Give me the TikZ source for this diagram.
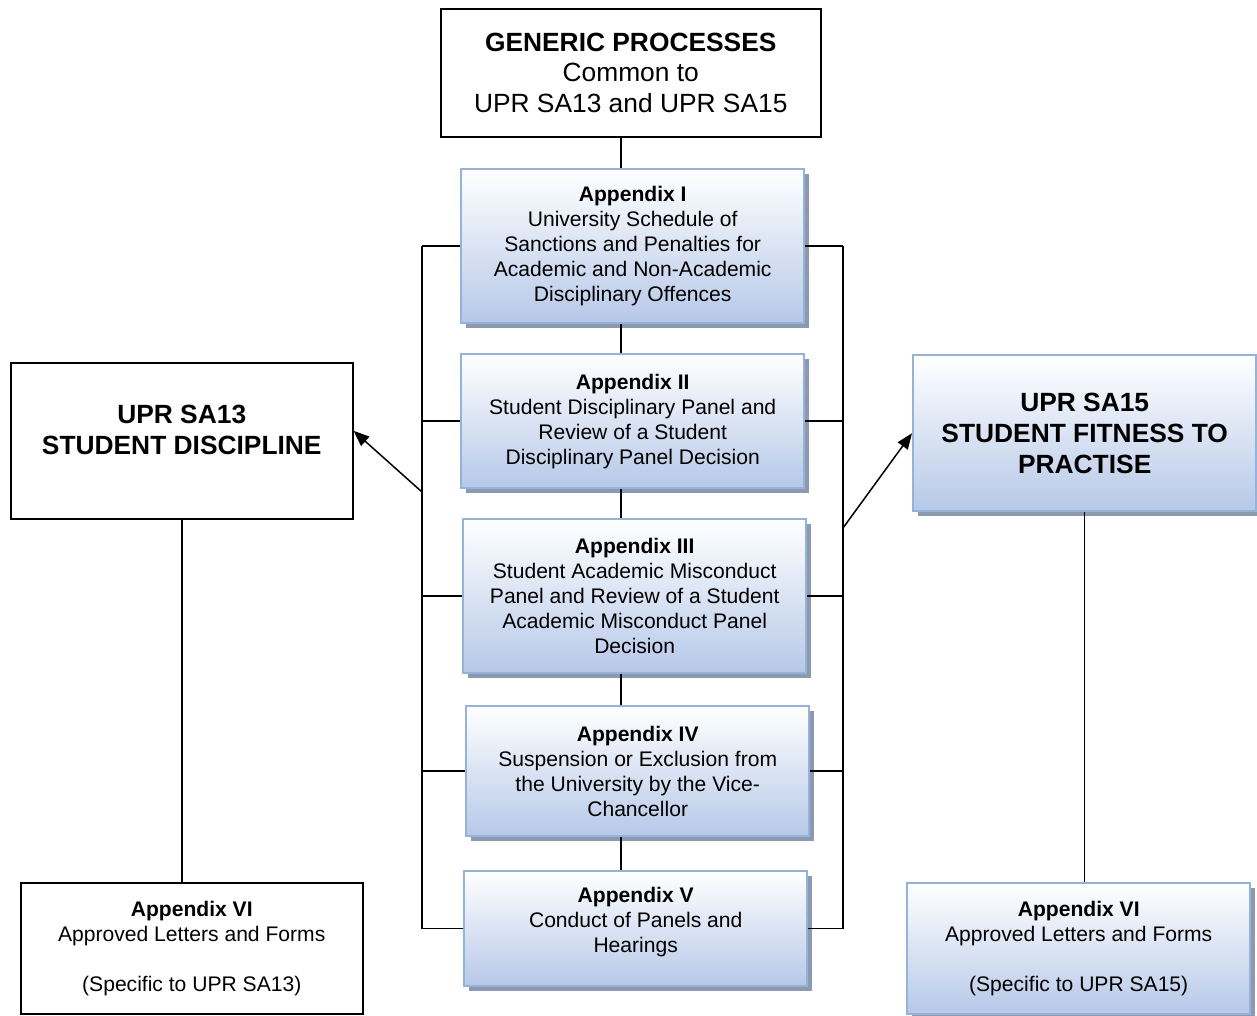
\documentclass[tikz,border=0pt]{standalone}
\usepackage{fontspec}
\setmainfont{Liberation Sans}
\usetikzlibrary{arrows.meta,shadows}
\definecolor{AppBorder}{HTML}{95B3D7}
\definecolor{AppFill}{HTML}{B6C8E8}
\definecolor{AppShadow}{HTML}{8C99B0}
\newcommand\AppFont{\fontsize{12}{14.2}\selectfont}
\newcommand\BigFont{\fontsize{15}{17.5}\selectfont}
\tikzset{%
  AppStyle/.style={draw=AppBorder,line width=1.4pt,top color=white,bottom color=AppFill,
    drop shadow={shadow xshift=2.5pt,shadow yshift=-2.5pt,fill=AppShadow,opacity=1},
    align=center,anchor=north west,inner sep=0pt,font=\AppFont},
  PlainStyle/.style={draw,line width=0.9pt,fill=white,align=center,anchor=north west,
    inner sep=0pt,font=\AppFont},
  LinkStyle/.style={line width=0.85pt}
}

\begin{document}
\begin{tikzpicture}[x=0.02cm,y=-0.02cm]
  \useasboundingbox (0,0) rectangle (1257,1015);
  % central column
  \node[PlainStyle,font=\BigFont,minimum width=7.6cm,minimum height=2.56cm] (gen) at (440,8)
    {\textbf{GENERIC PROCESSES}\\Common to\\UPR SA13 and UPR SA15};
  \node[AppStyle,minimum width=6.86cm,minimum height=3.08cm] (a1) at (460,168)
    {\textbf{Appendix I}\\University Schedule of\\Sanctions and Penalties for\\Academic and Non-Academic\\Disciplinary Offences};
  \node[AppStyle,minimum width=6.86cm,minimum height=2.68cm] (a2) at (460,353)
    {\textbf{Appendix II}\\Student Disciplinary Panel and\\Review of a Student\\Disciplinary Panel Decision};
  \node[AppStyle,minimum width=6.86cm,minimum height=3.08cm] (a3) at (462,518)
    {\textbf{Appendix III}\\Student Academic Misconduct\\Panel and Review of a Student\\Academic Misconduct Panel\\Decision};
  \node[AppStyle,minimum width=6.86cm,minimum height=2.6cm] (a4) at (465,705)
    {\textbf{Appendix IV}\\Suspension or Exclusion from\\the University by the Vice-\\Chancellor};
  \node[AppStyle,minimum width=6.86cm,minimum height=2.3cm] (a5) at (463,870)
    {\textbf{Appendix V}\\Conduct of Panels and\\Hearings\\[-4.2pt]};
  % side columns
  \node[PlainStyle,font=\BigFont\bfseries,minimum width=6.84cm,minimum height=3.12cm] (sa13) at (10,362)
    {UPR SA13\\STUDENT DISCIPLINE\\[-5pt]};
  \node[AppStyle,font=\BigFont\bfseries,minimum width=6.86cm,minimum height=3.12cm] (sa15) at (912,354)
    {UPR SA15\\STUDENT FITNESS TO\\PRACTISE};
  \node[PlainStyle,minimum width=6.84cm,minimum height=2.62cm] (l6) at (20,882)
    {\textbf{Appendix VI}\\Approved Letters and Forms\\[14.2pt](Specific to UPR SA13)};
  \node[AppStyle,minimum width=6.86cm,minimum height=2.62cm] (r6) at (906,882)
    {\textbf{Appendix VI}\\Approved Letters and Forms\\[14.2pt](Specific to UPR SA15)};

  \coordinate (spine) at (621,0);
  \coordinate (lbus) at (422,0);
  \coordinate (rbus) at (843,0);
  \coordinate (lfork) at (422,492);
  \coordinate (rfork) at (843,528);

  \draw[LinkStyle] (gen.south -| spine) -- (a1.north -| spine);
  \foreach \i [count=\j from 2] in {1,...,4}
    \draw[LinkStyle] (a\i.south -| spine) -- (a\j.north -| spine);
  \foreach \i in {1,...,5}{
    \draw[LinkStyle] (a\i.west) -- (a\i.west -| lbus);
    \draw[LinkStyle] (a\i.east) -- (a\i.east -| rbus);
  }
  \draw[LinkStyle] (a1.west -| lbus) -- (a5.west -| lbus);
  \draw[LinkStyle] (a1.east -| rbus) -- (a5.east -| rbus);
  \draw[LinkStyle,-{Triangle[length=9pt,width=7pt]}] (lfork) -- ([yshift=0.2cm]sa13.east);
  \draw[LinkStyle,-{Triangle[length=9pt,width=7pt]}] (rfork) -- (sa15.west);
  \draw[LinkStyle] (sa13.south) -- (sa13.south |- l6.north);
  \draw[LinkStyle] (sa15.south) -- (sa15.south |- r6.north);
\end{tikzpicture}
\end{document}
